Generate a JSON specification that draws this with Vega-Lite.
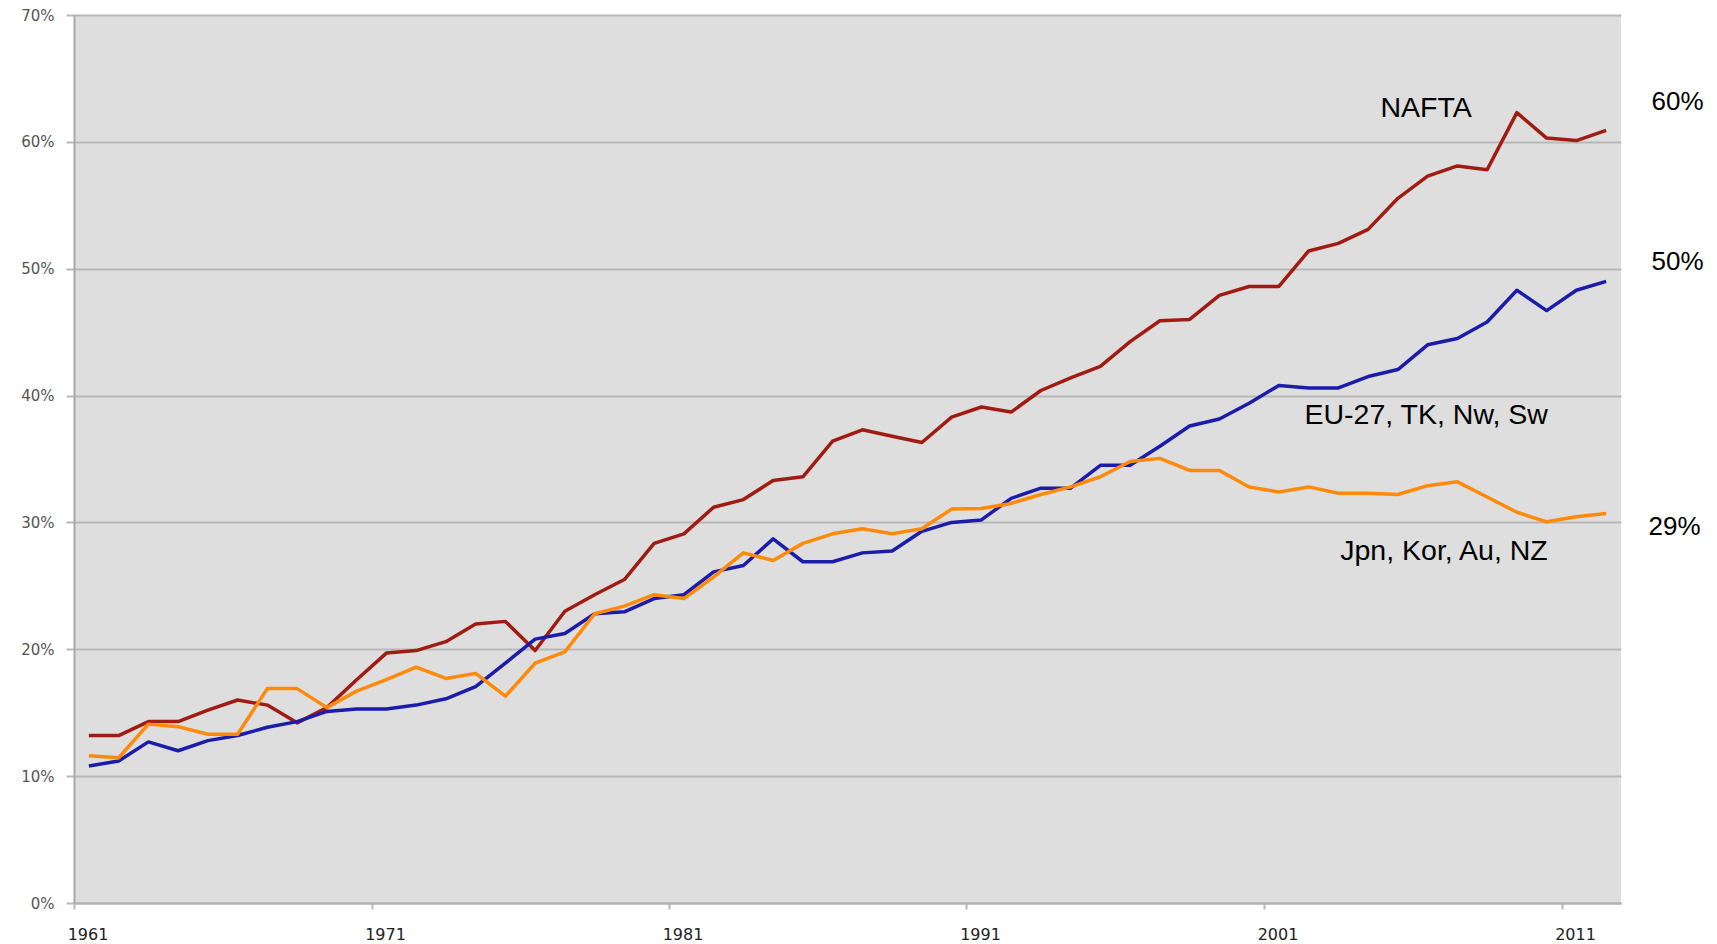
{
"$schema": "https://vega.github.io/schema/vega-lite/v6.json",
"width": 1547,
"height": 888,
"autosize": {"type": "none"},
"padding": {"left": 74, "top": 15, "right": 96, "bottom": 41},
"background": "white",
"config": {"view": {"fill": "#dedede", "stroke": null}},
"layer": [
{
"data": {"values": [
{"year":1961,"NAFTA":13.2,"EU":10.8,"JKAN":11.6},
{"year":1962,"NAFTA":13.2,"EU":11.2,"JKAN":11.45},
{"year":1963,"NAFTA":14.3,"EU":12.7,"JKAN":14.1},
{"year":1964,"NAFTA":14.3,"EU":12.0,"JKAN":13.9},
{"year":1965,"NAFTA":15.2,"EU":12.8,"JKAN":13.3},
{"year":1966,"NAFTA":16.0,"EU":13.2,"JKAN":13.3},
{"year":1967,"NAFTA":15.6,"EU":13.85,"JKAN":16.9},
{"year":1968,"NAFTA":14.2,"EU":14.3,"JKAN":16.9},
{"year":1969,"NAFTA":15.4,"EU":15.1,"JKAN":15.4},
{"year":1970,"NAFTA":17.6,"EU":15.3,"JKAN":16.7},
{"year":1971,"NAFTA":19.7,"EU":15.3,"JKAN":17.6},
{"year":1972,"NAFTA":19.9,"EU":15.6,"JKAN":18.6},
{"year":1973,"NAFTA":20.6,"EU":16.1,"JKAN":17.7},
{"year":1974,"NAFTA":22.0,"EU":17.05,"JKAN":18.1},
{"year":1975,"NAFTA":22.2,"EU":18.9,"JKAN":16.3},
{"year":1976,"NAFTA":19.9,"EU":20.8,"JKAN":18.9},
{"year":1977,"NAFTA":23.0,"EU":21.25,"JKAN":19.8},
{"year":1978,"NAFTA":24.3,"EU":22.8,"JKAN":22.8},
{"year":1979,"NAFTA":25.5,"EU":22.95,"JKAN":23.4},
{"year":1980,"NAFTA":28.35,"EU":24.0,"JKAN":24.3},
{"year":1981,"NAFTA":29.1,"EU":24.3,"JKAN":24.0},
{"year":1982,"NAFTA":31.2,"EU":26.1,"JKAN":25.7},
{"year":1983,"NAFTA":31.8,"EU":26.6,"JKAN":27.6},
{"year":1984,"NAFTA":33.3,"EU":28.7,"JKAN":27.0},
{"year":1985,"NAFTA":33.6,"EU":26.9,"JKAN":28.35},
{"year":1986,"NAFTA":36.4,"EU":26.9,"JKAN":29.1},
{"year":1987,"NAFTA":37.3,"EU":27.6,"JKAN":29.5},
{"year":1988,"NAFTA":36.8,"EU":27.75,"JKAN":29.1},
{"year":1989,"NAFTA":36.3,"EU":29.3,"JKAN":29.5},
{"year":1990,"NAFTA":38.3,"EU":30.0,"JKAN":31.05},
{"year":1991,"NAFTA":39.1,"EU":30.2,"JKAN":31.1},
{"year":1992,"NAFTA":38.7,"EU":31.9,"JKAN":31.5},
{"year":1993,"NAFTA":40.4,"EU":32.7,"JKAN":32.2},
{"year":1994,"NAFTA":41.4,"EU":32.7,"JKAN":32.8},
{"year":1995,"NAFTA":42.3,"EU":34.5,"JKAN":33.6},
{"year":1996,"NAFTA":44.25,"EU":34.5,"JKAN":34.8},
{"year":1997,"NAFTA":45.9,"EU":36.0,"JKAN":35.05},
{"year":1998,"NAFTA":46.0,"EU":37.6,"JKAN":34.1},
{"year":1999,"NAFTA":47.9,"EU":38.15,"JKAN":34.1},
{"year":2000,"NAFTA":48.6,"EU":39.4,"JKAN":32.8},
{"year":2001,"NAFTA":48.6,"EU":40.8,"JKAN":32.4},
{"year":2002,"NAFTA":51.4,"EU":40.6,"JKAN":32.8},
{"year":2003,"NAFTA":52.0,"EU":40.6,"JKAN":32.3},
{"year":2004,"NAFTA":53.1,"EU":41.5,"JKAN":32.3},
{"year":2005,"NAFTA":55.55,"EU":42.05,"JKAN":32.2},
{"year":2006,"NAFTA":57.3,"EU":44.0,"JKAN":32.9},
{"year":2007,"NAFTA":58.1,"EU":44.5,"JKAN":33.2},
{"year":2008,"NAFTA":57.8,"EU":45.8,"JKAN":32.0},
{"year":2009,"NAFTA":62.3,"EU":48.3,"JKAN":30.8},
{"year":2010,"NAFTA":60.3,"EU":46.7,"JKAN":30.05},
{"year":2011,"NAFTA":60.1,"EU":48.3,"JKAN":30.45},
{"year":2012,"NAFTA":60.9,"EU":49.0,"JKAN":30.7}
]},
"transform": [{"fold": ["NAFTA", "EU", "JKAN"], "as": ["series", "value"]}],
"mark": {"type": "line", "strokeJoin": "round"},
"encoding": {
"x": {"field": "year", "type": "quantitative",
 "scale": {"domain": [1960.5, 2012.5], "nice": false, "zero": false},
 "axis": {"title": null, "values": [1960.5, 1970.5, 1980.5, 1990.5, 2000.5, 2010.5],
  "labelExpr": "format(datum.value + 0.5, 'd')", "labelOffset": 13.5, "labelFlush": false, "labelBound": false, "labelOverlap": false,
  "grid": false, "domain": true, "domainColor": "#b0b0b0", "domainWidth": 2,
  "ticks": true, "tickColor": "#b8b8b8", "tickWidth": 2, "tickSize": 6,
  "labelFont": "DejaVu Sans", "labelFontSize": 16, "labelColor": "#222222", "labelPadding": 17}},
"y": {"field": "value", "type": "quantitative",
 "scale": {"domain": [0, 70], "nice": false},
 "axis": {"title": null, "values": [0, 10, 20, 30, 40, 50, 60, 70],
  "labelExpr": "datum.value + '%'",
  "grid": true, "gridColor": "#b8b8b8", "gridWidth": 2,
  "domain": true, "domainColor": "#a8a8a8", "domainWidth": 2,
  "ticks": true, "tickColor": "#b8b8b8", "tickWidth": 2, "tickSize": 8,
  "labelFont": "DejaVu Sans", "labelFontSize": 15, "labelColor": "#555555", "labelPadding": 12}},
"color": {"field": "series", "type": "nominal",
 "scale": {"domain": ["NAFTA", "EU", "JKAN"], "range": ["#a01b12", "#1c1caa", "#ff8a0a"]}, "legend": null},
"strokeWidth": {"field": "series", "type": "nominal",
 "scale": {"domain": ["NAFTA", "EU", "JKAN"], "range": [3.5, 3.5, 4.5]}, "legend": null}
}
},
{
"data": {"values": [
{"label": "NAFTA", "year": 2005.95, "value": 61.96},
{"label": "EU-27, TK, Nw, Sw", "year": 2005.95, "value": 37.76},
{"label": "Jpn, Kor, Au, NZ", "year": 2006.55, "value": 27.03}
]},
"mark": {"type": "text", "font": "Liberation Sans", "fontSize": 28.5, "color": "#000000", "align": "center", "baseline": "alphabetic"},
"encoding": {
"x": {"field": "year", "type": "quantitative", "scale": {"domain": [1960.5, 2012.5], "nice": false, "zero": false}},
"y": {"field": "value", "type": "quantitative", "scale": {"domain": [0, 70], "nice": false}},
"text": {"field": "label"}
}
},
{
"data": {"values": [
{"label": "60%", "year": 2014.4, "value": 62.5},
{"label": "50%", "year": 2014.4, "value": 49.9},
{"label": "29%", "year": 2014.3, "value": 29.0}
]},
"mark": {"type": "text", "font": "Liberation Sans", "fontSize": 26, "color": "#000000", "align": "center", "baseline": "alphabetic"},
"encoding": {
"x": {"field": "year", "type": "quantitative", "scale": {"domain": [1960.5, 2012.5], "nice": false, "zero": false}},
"y": {"field": "value", "type": "quantitative", "scale": {"domain": [0, 70], "nice": false}},
"text": {"field": "label"}
}
}
]
}
